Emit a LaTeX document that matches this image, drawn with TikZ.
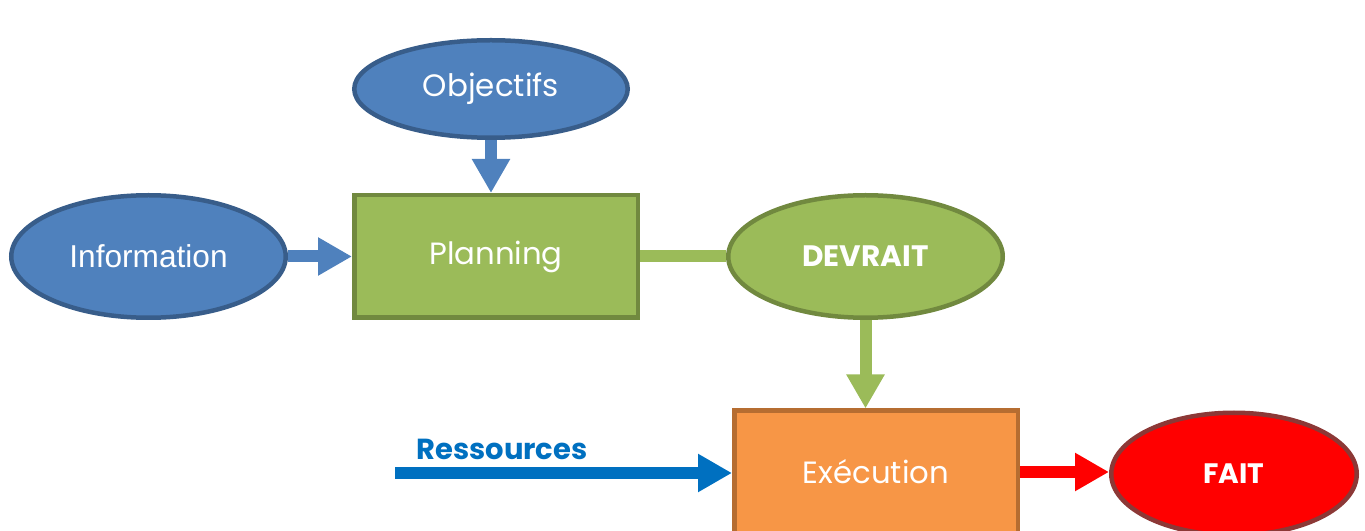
\documentclass[tikz,border=0pt]{standalone}
\usepackage{fontspec}
\setmainfont{Poppins}
\newfontfamily\arialfont{Liberation Sans}
\usetikzlibrary{shapes.geometric,arrows.meta}
\definecolor{blueFill}{HTML}{4F81BD}
\definecolor{blueLine}{HTML}{385D8A}
\definecolor{greenFill}{HTML}{9BBB59}
\definecolor{greenLine}{HTML}{71893F}
\definecolor{orangeFill}{HTML}{F79646}
\definecolor{orangeLine}{HTML}{B66D31}
\definecolor{redFill}{HTML}{FF0000}
\definecolor{redLine}{HTML}{8C3836}
\definecolor{resBlue}{HTML}{0070C0}
\begin{document}
\begin{tikzpicture}[
    blob/.style={ellipse, draw=blueLine, fill=blueFill, line width=0.09cm, text=white, inner sep=0pt},
    box/.style={rectangle, line width=0.09cm, text=white, minimum width=5.67cm, minimum height=2.45cm},
    fatarrow/.style={line width=0.24cm, -{Triangle[length=0.68cm,width=0.72cm]}}
    ]
    \useasboundingbox (0,0) rectangle (27.3,10.62);

    \node[blob, minimum width=5.47cm, minimum height=1.95cm, font=\fontsize{17.6}{20}\selectfont] (Objectifs) at (9.82,8.84) {Objectifs};
    \node[blob, minimum width=5.49cm, minimum height=2.45cm, font=\arialfont\fontsize{18}{21}\selectfont] (Information) at (2.97,5.49) {Information};
    \node[box, draw=greenLine, fill=greenFill, font=\fontsize{17.5}{20}\selectfont] (Planning) at (9.92,5.49) {Planning};
    \node[ellipse, draw=greenLine, fill=greenFill, line width=0.09cm, text=white, minimum width=5.49cm, minimum height=2.45cm, font=\bfseries\fontsize{16.8}{19}\selectfont] (Devrait) at (17.31,5.49) {DEVRAIT};
    \node[box, draw=orangeLine, fill=orangeFill, font=\fontsize{17.5}{20}\selectfont] (Execution) at (17.52,1.18) {Exécution};
    \node[ellipse, draw=redLine, fill=redFill, line width=0.09cm, text=white, minimum width=4.91cm, minimum height=2.45cm, font=\bfseries\fontsize{16}{19}\selectfont] (Fait) at (24.68,1.14) {FAIT};
    \coordinate (ResStart) at (7.90,1.16);
    \node[text=resBlue, font=\bfseries\fontsize{16.5}{19}\selectfont] (Ressources) at (10.04,1.64) {Ressources};

    \draw[fatarrow, blueFill] (Objectifs.south) -- (Objectifs.south |- Planning.north);
    \draw[fatarrow, blueFill] (Information.east) -- (Planning.west);
    \draw[line width=0.24cm, greenFill] (Planning.east) -- (Devrait.west);
    \draw[fatarrow, greenFill] (Devrait.south) -- (Devrait.south |- Execution.north);
    \draw[fatarrow, resBlue] (ResStart) -- (ResStart -| Execution.west);
    \draw[fatarrow, redFill] (Execution.east) -- (Execution.east -| Fait.west);
\end{tikzpicture}
\end{document}
